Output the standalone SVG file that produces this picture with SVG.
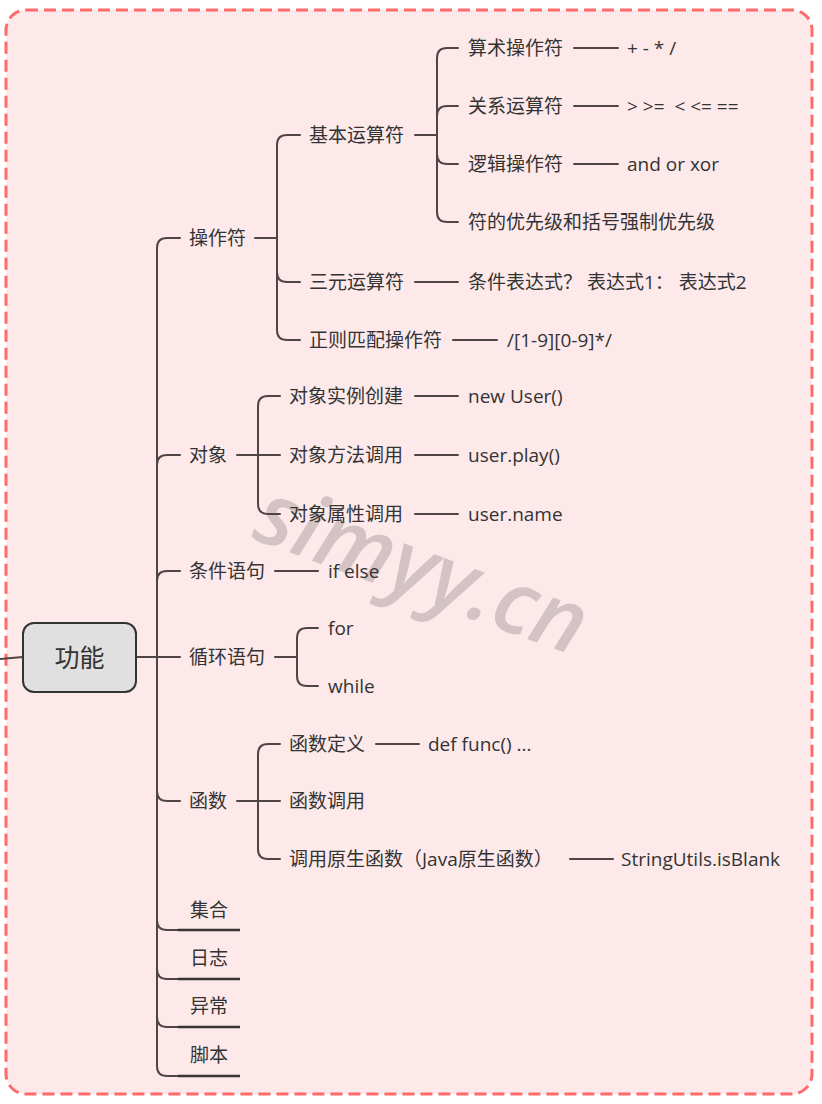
<svg xmlns="http://www.w3.org/2000/svg" width="822" height="1104" viewBox="0 0 822 1104">
<style>
.t{font-family:"Open Sans","Noto Sans CJK SC",sans-serif;font-size:19px;fill:#333}
.c{fill:none;stroke:#4f4545;stroke-width:2;stroke-linecap:round}
.u{fill:none;stroke:#3a3333;stroke-width:2.6}
.wm{font-family:"Open Sans","DejaVu Sans",sans-serif;font-size:88px;font-weight:600;font-style:italic;fill:#d4c3c4}
</style>
<rect x="0" y="0" width="822" height="1104" fill="#ffffff"/>
<rect id="frame" x="6" y="10" width="806" height="1084" rx="20" fill="#fde9ea" stroke="#ff6b6b" stroke-width="3" stroke-dasharray="12 6"/>
<text class="wm" transform="translate(250,538) rotate(20)">simyy.cn</text>
<g id="connectors">
<path class="c" d="M0,659 L23,657" stroke-width="2.5"/>
<path class="c" d="M136,657 H157"/>
<path class="c" d="M157,657 V248 Q157,238 167,238 H180"/>
<path class="c" d="M157,657 V465 Q157,455 167,455 H180"/>
<path class="c" d="M157,657 V581 Q157,571 167,571 H180"/>
<path class="c" d="M157,657 H180"/>
<path class="c" d="M157,657 V791 Q157,801 167,801 H180"/>
<path class="c" d="M157,657 V920 Q157,930 167,930 H178"/>
<path class="c" d="M157,657 V969 Q157,979 167,979 H178"/>
<path class="c" d="M157,657 V1017 Q157,1027 167,1027 H178"/>
<path class="c" d="M157,657 V1066 Q157,1076 167,1076 H178"/>
<path class="c" d="M255,238 H277"/>
<path class="c" d="M277,238 V145 Q277,135 287,135 H300"/>
<path class="c" d="M277,238 V272 Q277,282 287,282 H300"/>
<path class="c" d="M277,238 V330 Q277,340 287,340 H300"/>
<path class="c" d="M415,135 H437"/>
<path class="c" d="M437,135 V58 Q437,48 447,48 H458"/>
<path class="c" d="M437,135 V116 Q437,106 447,106 H458"/>
<path class="c" d="M437,135 V154 Q437,164 447,164 H458"/>
<path class="c" d="M437,135 V212 Q437,222 447,222 H458"/>
<path class="c" d="M574,48 H618"/>
<path class="c" d="M574,106 H618"/>
<path class="c" d="M574,164 H618"/>
<path class="c" d="M415,282 H458"/>
<path class="c" d="M453,340 H497"/>
<path class="c" d="M237,455 H258"/>
<path class="c" d="M258,455 V406 Q258,396 268,396 H280"/>
<path class="c" d="M258,455 H280"/>
<path class="c" d="M258,455 V504 Q258,514 268,514 H280"/>
<path class="c" d="M415,396 H458"/>
<path class="c" d="M415,455 H458"/>
<path class="c" d="M415,514 H458"/>
<path class="c" d="M275,571 H318"/>
<path class="c" d="M275,657 H297"/>
<path class="c" d="M297,657 V638 Q297,628 307,628 H318"/>
<path class="c" d="M297,657 V676 Q297,686 307,686 H318"/>
<path class="c" d="M237,801 H258"/>
<path class="c" d="M258,801 V754 Q258,744 268,744 H280"/>
<path class="c" d="M258,801 H280"/>
<path class="c" d="M258,801 V849 Q258,859 268,859 H280"/>
<path class="c" d="M376,744 H419"/>
<path class="c" d="M570,859 H613"/>
</g>
<g id="root"><rect x="23" y="623" width="113" height="69" rx="11" fill="#e0e0e0" stroke="#333" stroke-width="2"/><text x="79.5" y="667" text-anchor="middle" style="font-family:'Open Sans','Noto Sans CJK SC',sans-serif;font-size:25px;fill:#333">功能</text></g>
<g id="n-ops"><text class="t" x="189" y="245">操作符</text></g>
<g id="n-basic"><text class="t" x="309" y="142">基本运算符</text></g>
<g id="n-arith"><text class="t" x="468" y="55">算术操作符</text></g>
<g id="n-arith-v"><text class="t" x="627" y="55">+ - * /</text></g>
<g id="n-rel"><text class="t" x="468" y="113">关系运算符</text></g>
<g id="n-rel-v"><text class="t" x="627" y="113" xml:space="preserve">&gt; &gt;=  &lt; &lt;= ==</text></g>
<g id="n-logic"><text class="t" x="468" y="171">逻辑操作符</text></g>
<g id="n-logic-v"><text class="t" x="627" y="171">and or xor</text></g>
<g id="n-prio"><text class="t" x="468" y="229">符的优先级和括号强制优先级</text></g>
<g id="n-tern"><text class="t" x="309" y="289">三元运算符</text></g>
<g id="n-tern-v"><text class="t" x="468" y="289">条件表达式？ 表达式1： 表达式2</text></g>
<g id="n-regex"><text class="t" x="309" y="347">正则匹配操作符</text></g>
<g id="n-regex-v"><text class="t" x="507" y="347">/[1-9][0-9]*/</text></g>
<g id="n-obj"><text class="t" x="189" y="462">对象</text></g>
<g id="n-obj1"><text class="t" x="289" y="403">对象实例创建</text></g>
<g id="n-obj1-v"><text class="t" x="468" y="403">new User()</text></g>
<g id="n-obj2"><text class="t" x="289" y="462">对象方法调用</text></g>
<g id="n-obj2-v"><text class="t" x="468" y="462">user.play()</text></g>
<g id="n-obj3"><text class="t" x="289" y="521">对象属性调用</text></g>
<g id="n-obj3-v"><text class="t" x="468" y="521">user.name</text></g>
<g id="n-cond"><text class="t" x="189" y="578">条件语句</text></g>
<g id="n-cond-v"><text class="t" x="328" y="578">if else</text></g>
<g id="n-loop"><text class="t" x="189" y="664">循环语句</text></g>
<g id="n-for"><text class="t" x="328" y="635">for</text></g>
<g id="n-while"><text class="t" x="328" y="693">while</text></g>
<g id="n-func"><text class="t" x="189" y="808">函数</text></g>
<g id="n-fdef"><text class="t" x="289" y="751">函数定义</text></g>
<g id="n-fdef-v"><text class="t" x="428" y="751">def func() ...</text></g>
<g id="n-fcall"><text class="t" x="289" y="808">函数调用</text></g>
<g id="n-fnative"><text class="t" x="289" y="866">调用原生函数（Java原生函数）</text></g>
<g id="n-fnative-v"><text class="t" x="621" y="866">StringUtils.isBlank</text></g>
<g id="n-set"><text class="t" x="190" y="917">集合</text><path class="u" d="M178,930 H240"/></g>
<g id="n-log"><text class="t" x="190" y="965">日志</text><path class="u" d="M178,979 H240"/></g>
<g id="n-exc"><text class="t" x="190" y="1013">异常</text><path class="u" d="M178,1027 H240"/></g>
<g id="n-script"><text class="t" x="190" y="1062">脚本</text><path class="u" d="M178,1076 H240"/></g>
</svg>
